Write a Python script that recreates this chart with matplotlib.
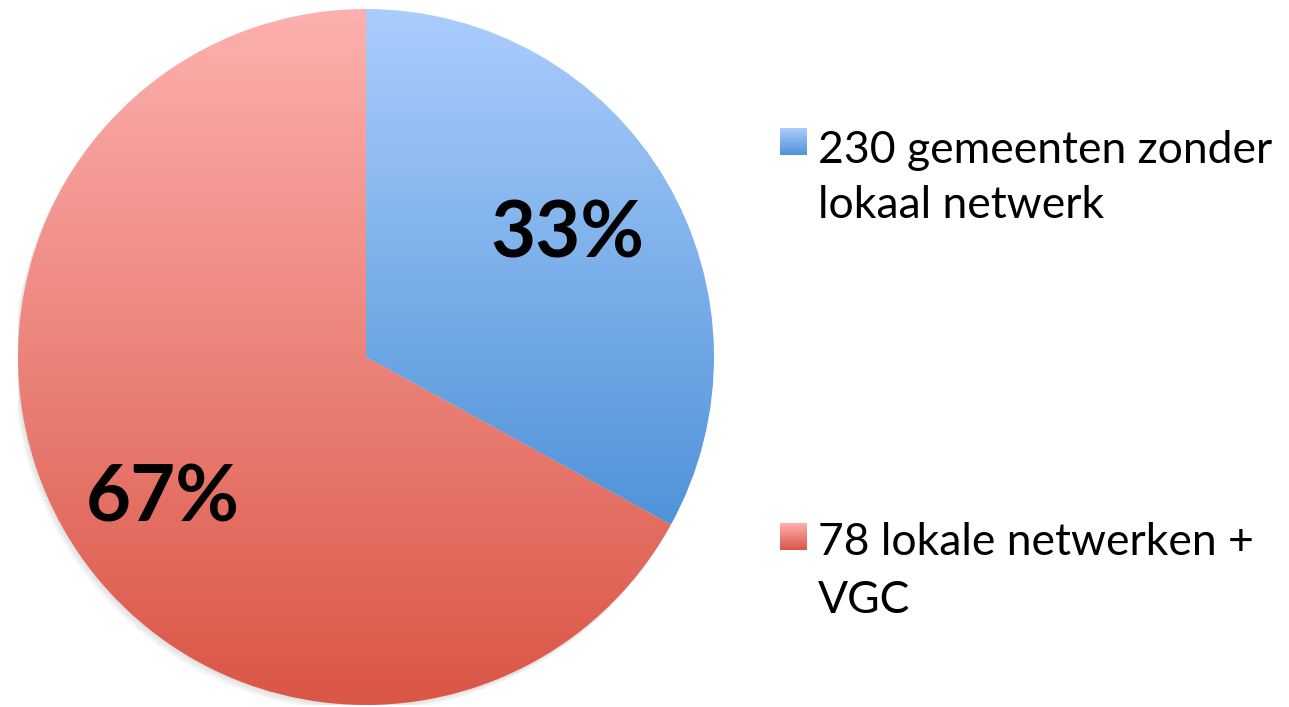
import matplotlib.pyplot as plt
import numpy as np
from matplotlib.colors import LinearSegmentedColormap
from matplotlib.patches import Circle

# data
labels = ["230 gemeenten zonder\nlokaal netwerk", "78 lokale netwerken +\nVGC"]
shares = [33, 67]
pct_text = ["33%", "67%"]
# gradient (top, bottom) per slice
grad_colors = [("#abcdfd", "#4f93d8"), ("#fdb0ae", "#da5646")]

plt.rcParams['font.family'] = ['Lato', 'DejaVu Sans']

W, H = 1289, 707
fig = plt.figure(figsize=(W / 100, H / 100), dpi=100)

# pie axes, radius 1 in data units
cx, cy, r = 366, 357, 348
ax = fig.add_axes([(cx - r) / W, (H - cy - r) / H, 2 * r / W, 2 * r / H])
ax.set_xlim(-1, 1)
ax.set_ylim(-1, 1)
ax.set_aspect('equal')
ax.axis('off')

# soft shadow
for k, a in enumerate([0.05, 0.05, 0.06]):
    ax.add_patch(Circle((-0.004 * (k + 1), -0.006 * (k + 1)), 1.0, color='#555555', alpha=a, zorder=0, lw=0))

wedges, _ = ax.pie(shares, startangle=90, counterclock=False, radius=1.0,
                   wedgeprops=dict(linewidth=0, edgecolor='none'))

for w, (top, bot) in zip(wedges, grad_colors):
    w.set_facecolor('none')
    verts = w.get_path().vertices
    y0, y1 = verts[:, 1].min(), verts[:, 1].max()
    x0, x1 = verts[:, 0].min(), verts[:, 0].max()
    cmap = LinearSegmentedColormap.from_list('g', [bot, top])
    grad = np.linspace(0, 1, 256).reshape(-1, 1)
    im = ax.imshow(grad, cmap=cmap, extent=[x0, x1, y0, y1], origin='lower',
                   aspect='auto', zorder=1, interpolation='bilinear')
    im.set_clip_path(w)

ax.set_xlim(-1, 1)
ax.set_ylim(-1, 1)

# percentage labels
label_pos = [(567, 235), (163, 500)]
for txt, (px, py) in zip(pct_text, label_pos):
    fig.text(px / W, 1 - py / H, txt, fontsize=56, fontweight='bold',
             ha='center', va='center', color='black')

# legend
marker_tops = [128, 523]
baselines = [(163, 218), (555, 613)]
for lab, (top, bot), mt, bl in zip(labels, grad_colors, marker_tops, baselines):
    max_ = fig.add_axes([780 / W, 1 - (mt + 27) / H, 27 / W, 27 / H])
    cmap = LinearSegmentedColormap.from_list('g', [bot, top])
    max_.imshow(np.linspace(0, 1, 64).reshape(-1, 1), cmap=cmap, origin='lower',
                aspect='auto', extent=[0, 1, 0, 1])
    max_.axis('off')
    for line, b in zip(lab.split('\n'), bl):
        fig.text(818 / W, 1 - b / H, line, fontsize=32, ha='left', va='baseline',
                 color='black')

fig.savefig('out.png', dpi=100)
